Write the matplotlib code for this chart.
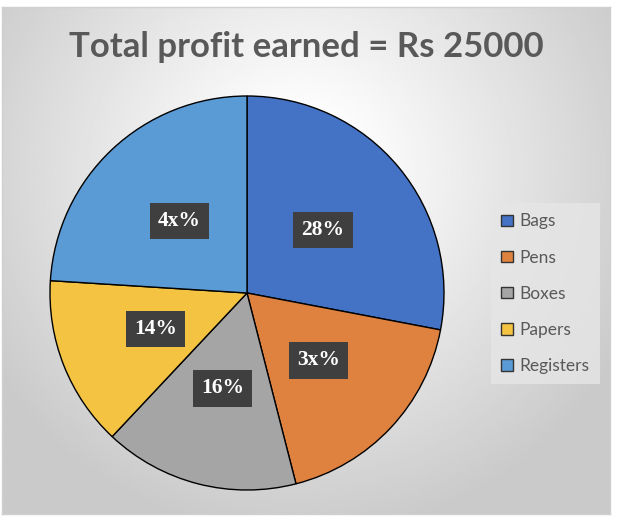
import numpy as np
import matplotlib
matplotlib.use("Agg")
import matplotlib.pyplot as plt
from matplotlib.patches import Patch

categories = ["Bags", "Pens", "Boxes", "Papers", "Registers"]
shares = [28, 18, 16, 14, 24]
slice_labels = ["28%", "3x%", "16%", "14%", "4x%"]
colors = ["#4472C4", "#E0823F", "#A5A5A5", "#F5C342", "#5B9BD5"]
title = "Total profit earned = Rs 25000"

W, H = 620, 524
fig = plt.figure(figsize=(W / 100, H / 100), dpi=100)
fig.patch.set_facecolor("white")

# chart area background with radial gradient
x0, y0, x1, y1 = 2, 7, 610, 514
bg = fig.add_axes([x0 / W, 1 - y1 / H, (x1 - x0) / W, (y1 - y0) / H])
gx = np.linspace(x0, x1, 400)
gy = np.linspace(y0, y1, 400)
GX, GY = np.meshgrid(gx, gy)
cx, cy = 300, 170
d = np.sqrt((GX - cx) ** 2 + (GY - cy) ** 2)
t = np.clip((d - 50) / 320, 0, 1)
val = 1.0 - t * (1.0 - 0.79)
bg.imshow(val, cmap="gray", vmin=0, vmax=1, extent=[0, 1, 0, 1],
          aspect="auto", origin="upper", interpolation="bilinear")
bg.set_xlim(0, 1)
bg.set_ylim(0, 1)
bg.set_xticks([])
bg.set_yticks([])
for s in bg.spines.values():
    s.set_color("#D0D0D0")
    s.set_linewidth(1.0)

# pie
pcx, pcy, r = 247, 293, 197
ax = fig.add_axes([(pcx - r) / W, 1 - (pcy + r) / H, 2 * r / W, 2 * r / H])
ax.set_facecolor("none")
wedges, _ = ax.pie(shares, colors=colors, startangle=90, counterclock=False,
                   radius=1.0, wedgeprops=dict(edgecolor="black", linewidth=1.0))
ax.set_xlim(-1, 1)
ax.set_ylim(-1, 1)
ax.set_aspect("equal")
ax.axis("off")

for w, lab in zip(wedges, slice_labels):
    ang = np.deg2rad((w.theta1 + w.theta2) / 2)
    x, y = 0.5 * np.cos(ang), 0.5 * np.sin(ang)
    ax.text(x, y, lab, ha="center", va="center", color="white",
            fontsize=15.5, fontweight="bold", family="Liberation Serif",
            bbox=dict(boxstyle="square,pad=0.38", facecolor="#3F3F3F",
                      edgecolor="none"))

fig.text(306 / W, 1 - 47 / H, title, ha="center", va="center",
         fontsize=25, fontweight="bold", color="#595959", family="Lato")

handles = [Patch(facecolor=c, edgecolor="#333333", linewidth=1.0) for c in colors]
leg = fig.legend(handles, categories, loc="upper left",
                 bbox_to_anchor=(491 / W, 1 - 203 / H),
                 frameon=True, fancybox=False,
                 prop=dict(family="Lato", size=12.5),
                 handlelength=0.65, handleheight=0.65, handletextpad=0.4,
                 labelspacing=1.16, borderpad=0.6, borderaxespad=0)
leg.get_frame().set_facecolor("#E6E6E6")
leg.get_frame().set_edgecolor("none")
leg.get_frame().set_alpha(0.8)
for txt in leg.get_texts():
    txt.set_color("#595959")

fig.savefig("out.png", dpi=100, facecolor="white")
